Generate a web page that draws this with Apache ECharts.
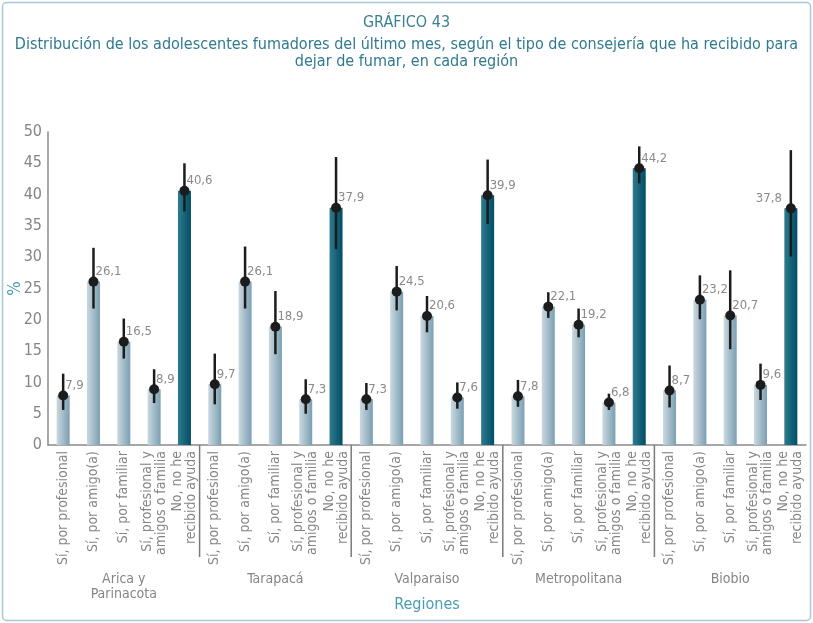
<!DOCTYPE html>
<html>
<head>
<meta charset="utf-8">
<script src="https://cdn.jsdelivr.net/npm/echarts@6/dist/echarts.min.js"></script>
<style>
  html, body { margin: 0; padding: 0; background: #fff; }
  #chart { width: 813px; height: 623px; }
</style>
</head>
<body>
<div id="chart"></div>
<script>
var FONT = "'DejaVu Sans Condensed', 'Liberation Sans Narrow', sans-serif";

var tipos = ['Sí, por profesional', 'Sí, por amigo(a)', 'Sí, por familiar', 'Sí, profesional y\namigos o familia', 'No, no he\nrecibido ayuda'];
var regiones = ['Arica y\nParinacota', 'Tarapacá', 'Valparaiso', 'Metropolitana', 'Biobio'];

// porcentaje, en orden region x tipo
var valores = [7.9, 26.1, 16.5, 8.9, 40.6,
               9.7, 26.1, 18.9, 7.3, 37.9,
               7.3, 24.5, 20.6, 7.6, 39.9,
               7.8, 22.1, 19.2, 6.8, 44.2,
               8.7, 23.2, 20.7, 9.6, 37.8];
// intervalo de confianza
var limInf = [5.6, 21.8, 13.8, 6.7, 37.3,
              6.5, 21.8, 14.5, 5.0, 31.3,
              5.6, 21.5, 18.0, 5.8, 35.3,
              6.1, 20.3, 17.2, 5.6, 41.8,
              6.0, 20.1, 15.3, 7.2, 30.1];
var limSup = [11.4, 31.5, 20.2, 12.1, 45.0,
              14.6, 31.7, 24.6, 10.5, 46.0,
              9.9, 28.6, 23.8, 10.0, 45.6,
              10.4, 24.4, 21.8, 8.2, 47.7,
              12.7, 27.1, 27.9, 13.0, 47.1];
var yTicks = [0, 5, 10, 15, 20, 25, 30, 35, 40, 45, 50];

var categorias = [];
regiones.forEach(function () {
  tipos.forEach(function (t) { categorias.push(t); });
});

// limites entre regiones (indice de la primera categoria de cada region)
var separadores = [];
for (var r = 1; r < regiones.length; r++) {
  separadores.push([r * tipos.length, 0]);
}

var myChart = echarts.init(document.getElementById('chart'));

var claro = new echarts.graphic.LinearGradient(0, 0, 1, 0, [
  { offset: 0, color: '#cad8e0' },
  { offset: 1, color: '#7a9fb2' }
]);
var oscuro = new echarts.graphic.LinearGradient(0, 0, 1, 0, [
  { offset: 0, color: '#2f7b8e' },
  { offset: 1, color: '#004d66' }
]);

var barData = valores.map(function (v, i) {
  return {
    value: v,
    itemStyle: { color: (i % 5 === 4) ? oscuro : claro }
  };
});
var errData = valores.map(function (v, i) {
  return [i, v, limInf[i], limSup[i]];
});

var option = {
  backgroundColor: '#fff',
  textStyle: { fontFamily: FONT },
  title: {
    text: 'GRÁFICO 43',
    subtext: 'Distribución de los adolescentes fumadores del último mes, según el tipo de consejería que ha recibido para\ndejar de fumar, en cada región',
    left: 'center',
    top: 10,
    itemGap: 5,
    textStyle: { color: '#3a8093', fontSize: 16, fontWeight: 'normal', fontFamily: FONT },
    subtextStyle: { color: '#2e7a8e', fontSize: 16, lineHeight: 17, fontFamily: FONT, align: 'center' }
  },
  graphic: [{
    type: 'rect',
    shape: { x: 2.5, y: 2.5, width: 808, height: 618, r: 4 },
    style: { fill: 'none', stroke: '#a9c7d6', lineWidth: 1.5 },
    silent: true
  }],
  grid: { left: 48, right: 7, top: 132, bottom: 178, outerBoundsMode: 'none', containLabel: false },
  xAxis: [{
    type: 'category',
    data: categorias,
    axisLine: { lineStyle: { color: '#8a8a8a', width: 1.5 } },
    axisTick: { show: false },
    axisLabel: {
      interval: 0,
      rotate: 90,
      margin: 6,
      color: '#858585',
      fontSize: 14,
      lineHeight: 14,
      fontFamily: FONT
    }
  }, {
    type: 'category',
    position: 'bottom',
    data: regiones,
    axisLine: { show: false },
    axisTick: { show: false },
    axisLabel: {
      interval: 0,
      margin: 127,
      color: '#858585',
      fontSize: 14,
      lineHeight: 15,
      fontFamily: FONT
    },
    name: 'Regiones',
    nameLocation: 'middle',
    nameGap: 152,
    nameMoveOverlap: false,
    nameTextStyle: { color: '#4a9db2', fontSize: 16, fontFamily: FONT }
  }],
  yAxis: {
    type: 'value',
    min: 0,
    max: 50,
    interval: 5,
    name: '%',
    nameLocation: 'middle',
    nameGap: 24,
    nameMoveOverlap: false,
    nameTextStyle: { color: '#4a9db2', fontSize: 17, fontFamily: FONT },
    axisLine: { show: true, lineStyle: { color: '#8a8a8a', width: 1.5 } },
    axisTick: { show: false },
    splitLine: { show: false },
    axisLabel: {
      color: '#858585',
      fontSize: 16,
      margin: 6,
      fontFamily: FONT,
      formatter: function (v) { return yTicks.indexOf(v) >= 0 ? String(v) : ''; }
    }
  },
  series: [{
    type: 'bar',
    xAxisIndex: 0,
    barWidth: 13,
    data: barData,
    silent: true
  }, {
    // lineas que separan las regiones, bajo el eje
    type: 'custom',
    xAxisIndex: 0,
    data: separadores,
    silent: true,
    clip: false,
    renderItem: function (params, api) {
      var idx = api.value(0);
      var p = api.coord([idx, 0]);
      var half = api.size([1, 0])[0] / 2;
      var x = p[0] - half;
      return {
        type: 'line',
        shape: { x1: x, y1: p[1], x2: x, y2: p[1] + 112 },
        style: { stroke: '#7a7a7a', lineWidth: 1.5 }
      };
    }
  }, {
    type: 'custom',
    xAxisIndex: 0,
    data: errData,
    silent: true,
    z: 5,
    renderItem: function (params, api) {
      var x = api.value(0);
      var v = api.value(1);
      var p = api.coord([x, v]);
      var pLo = api.coord([x, api.value(2)]);
      var pHi = api.coord([x, api.value(3)]);
      var izq = params.dataIndex === valores.length - 1;
      return {
        type: 'group',
        children: [{
          type: 'line',
          shape: { x1: p[0], y1: pHi[1], x2: p[0], y2: pLo[1] },
          style: { stroke: '#1c1c1c', lineWidth: 2.5 }
        }, {
          type: 'circle',
          shape: { cx: p[0], cy: p[1], r: 5 },
          style: { fill: '#1c1c1c' }
        }, {
          type: 'text',
          style: {
            text: v.toFixed(1).replace('.', ','),
            x: izq ? p[0] - 9 : p[0] + 2,
            y: p[1] - 10,
            align: izq ? 'right' : 'left',
            verticalAlign: 'middle',
            fill: '#8a8a8a',
            fontSize: 13,
            fontFamily: FONT
          }
        }]
      };
    }
  }]
};

myChart.setOption(option);
window.addEventListener('resize', function () {
  myChart.resize();
});
</script>
</body>
</html>
